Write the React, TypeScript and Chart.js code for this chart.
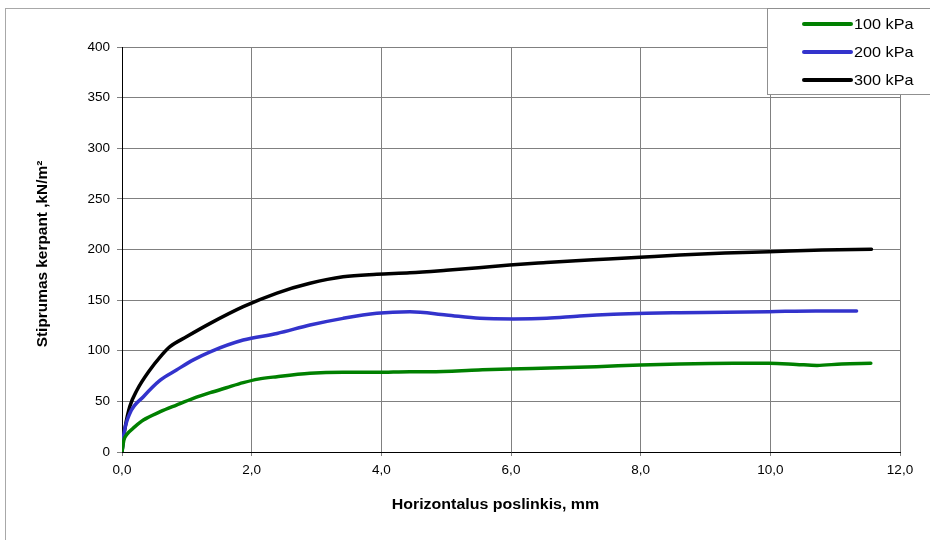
import React, { useEffect, useRef } from "react";
import { Chart, registerables } from "chart.js";

Chart.register(...registerables);

const seriesLabels = ["100 kPa", "200 kPa", "300 kPa"];
const seriesColors = ["#008000", "#3333CC", "#000000"];

const x100 = [0, 0.03, 0.07, 0.2, 0.33, 0.59, 0.84, 1.1, 1.36, 1.61, 1.87, 2.1, 2.39, 2.9, 3.41, 3.93, 4.44, 4.75, 5.5, 5.98, 6.6, 7.32, 8.0, 8.6, 9.43, 9.98, 10.4, 10.72, 11.1, 11.55];
const y100 = [0, 12, 17, 25, 31.6, 39.8, 46.4, 53, 58.6, 63.5, 68.5, 72, 74.4, 77.7, 78.7, 78.7, 79.3, 79.3, 81, 82, 83, 84.3, 86, 87, 87.6, 87.6, 86.5, 85.5, 87, 87.6];

const x200 = [0, 0.03, 0.12, 0.33, 0.59, 0.84, 1.1, 1.36, 1.87, 2.39, 2.9, 3.41, 3.93, 4.44, 5.0, 5.52, 6.04, 6.55, 7.06, 7.58, 8.09, 8.6, 9.3, 9.98, 10.7, 11.33];
const y200 = [0, 18, 38, 54.6, 71, 81, 91, 99, 110.6, 117, 125.4, 132, 137, 138.5, 135.3, 132, 131.4, 132, 134.3, 136, 137, 137.5, 138, 138.6, 139.3, 139.3];

const x300 = [0, 0.02, 0.05, 0.12, 0.23, 0.43, 0.59, 0.74, 1.0, 1.36, 1.87, 2.39, 2.9, 3.41, 3.93, 4.44, 5.0, 5.5, 5.98, 6.5, 7.0, 7.5, 7.99, 8.6, 9.3, 9.98, 10.8, 11.56];
const y300 = [0, 12, 25, 45, 61, 81, 94, 104, 114, 127, 143.5, 157, 166.6, 173, 175.5, 177, 179.5, 182, 184.7, 187, 189, 190.5, 192.3, 194.6, 196.5, 197.8, 199.5, 200.2];

const xTitle = "Horizontalus poslinkis, mm";
const yTitle = "Stiprumas kerpant ,kN/m²";

const FONT = "'Liberation Sans', Arial, sans-serif";

function toPoints(xs: number[], ys: number[]) {
  return xs.map((x, i) => ({ x, y: ys[i] }));
}

function drawStretched(ctx: CanvasRenderingContext2D, text: string, x: number, y: number, sx: number, rot: number) {
  ctx.save();
  ctx.translate(x, y);
  ctx.rotate(rot);
  ctx.scale(sx, 1);
  ctx.fillText(text, 0, 0);
  ctx.restore();
}

export default function App() {
  const ref = useRef<HTMLCanvasElement>(null);

  useEffect(() => {
    if (!ref.current) return;
    const framePlugin = {
      id: "frameAndLegend",
      beforeDraw(chart: any) {
        const ctx = chart.ctx;
        ctx.save();
        ctx.fillStyle = "#ffffff";
        ctx.fillRect(0, 0, chart.width, chart.height);
        ctx.strokeStyle = "#a8a8a8";
        ctx.lineWidth = 1;
        ctx.strokeRect(5.5, 8.5, 1200, 1200);
        ctx.restore();
      },
      afterDraw(chart: any) {
        const ctx = chart.ctx;
        const area = chart.chartArea;
        ctx.save();
        // axis titles
        ctx.fillStyle = "#000";
        ctx.font = `bold 14px ${FONT}`;
        ctx.textAlign = "center";
        ctx.textBaseline = "middle";
        drawStretched(ctx, xTitle, area.left + (area.right - area.left) * 0.48, 505, 1.14, 0);
        drawStretched(ctx, yTitle, 43, 254, 1.1, -Math.PI / 2);
        // legend
        ctx.fillStyle = "#ffffff";
        ctx.fillRect(768, 8, 200, 87);
        ctx.strokeStyle = "#909090";
        ctx.lineWidth = 1;
        ctx.strokeRect(767.5, 8.5, 200, 86);
        const ys = [24, 52, 80];
        chart.data.datasets.forEach((ds: any, i: number) => {
          ctx.strokeStyle = ds.borderColor;
          ctx.lineWidth = 4;
          ctx.lineCap = "round";
          ctx.beginPath();
          ctx.moveTo(804, ys[i]);
          ctx.lineTo(851, ys[i]);
          ctx.stroke();
          ctx.fillStyle = "#000";
          ctx.font = `15px ${FONT}`;
          ctx.textBaseline = "middle";
          ctx.textAlign = "left";
          drawStretched(ctx, ds.label, 854, ys[i] + 1, 1.08, 0);
        });
        ctx.restore();
      },
    };

    const chart = new Chart(ref.current, {
      type: "line",
      data: {
        datasets: [
          { label: seriesLabels[0], data: toPoints(x100, y100), borderColor: seriesColors[0], backgroundColor: seriesColors[0] },
          { label: seriesLabels[1], data: toPoints(x200, y200), borderColor: seriesColors[1], backgroundColor: seriesColors[1] },
          { label: seriesLabels[2], data: toPoints(x300, y300), borderColor: seriesColors[2], backgroundColor: seriesColors[2] },
        ],
      },
      options: {
        responsive: false,
        animation: false,
        devicePixelRatio: 1,
        layout: { padding: { top: 47, right: 30, left: 0, bottom: 0 } },
        elements: {
          point: { radius: 0, hoverRadius: 0 },
          line: { borderWidth: 3.5, cubicInterpolationMode: "monotone", borderCapStyle: "round", borderJoinStyle: "round" },
        },
        plugins: { legend: { display: false }, tooltip: { enabled: false } },
        scales: {
          x: {
            type: "linear",
            min: 0,
            max: 12,
            afterFit: (s: any) => { s.height = 88; },
            ticks: {
              stepSize: 2,
              color: "#000",
              font: { family: FONT, size: 13.5 },
              padding: 6,
              maxRotation: 0,
              callback: (v: any) => Number(v).toFixed(1).replace(".", ","),
            },
            grid: { color: "#808080", lineWidth: 1, tickLength: 4 },
            border: { color: "#000", width: 1 },
            title: { display: false },
          },
          y: {
            type: "linear",
            min: 0,
            max: 400,
            afterFit: (s: any) => { s.width = 122; },
            ticks: {
              stepSize: 50,
              color: "#000",
              font: { family: FONT, size: 13.5 },
              padding: 7,
            },
            grid: { color: "#808080", lineWidth: 1, tickLength: 5 },
            border: { color: "#000", width: 1 },
            title: { display: false },
          },
        },
      },
      plugins: [framePlugin],
    } as any);

    return () => chart.destroy();
  }, []);

  return (
    <div style={{ position: "fixed", left: 0, top: 0, width: 930, height: 540, background: "#fff" }}>
      <canvas ref={ref} width={930} height={540} style={{ display: "block", width: 930, height: 540 }} />
    </div>
  );
}
